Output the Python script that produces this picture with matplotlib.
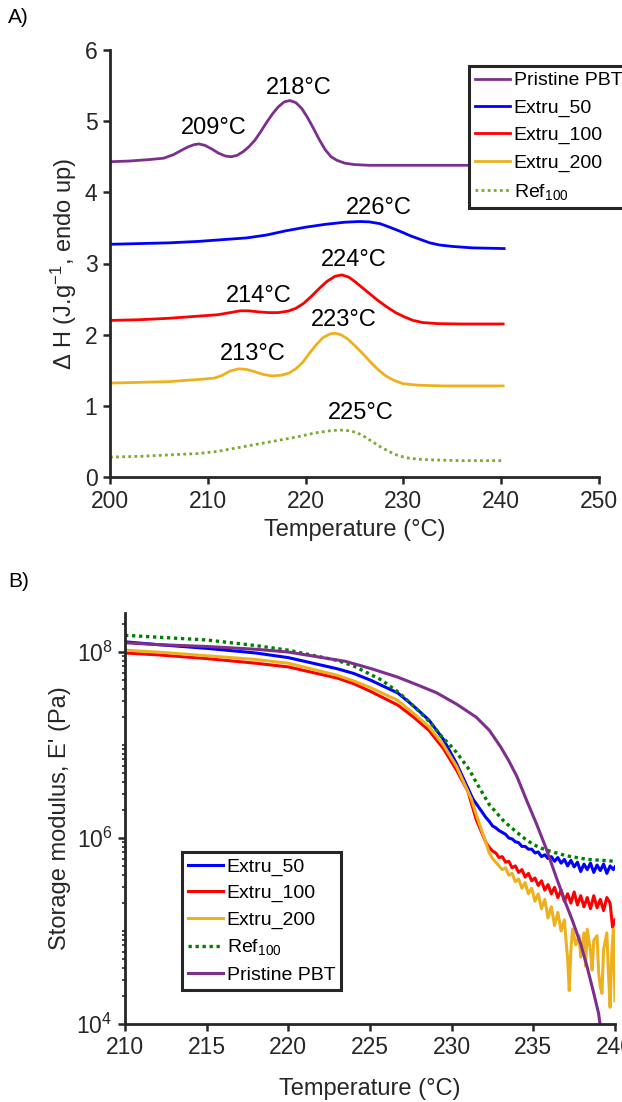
import matplotlib
matplotlib.use('Agg')
import matplotlib.pyplot as plt
import numpy as np
from matplotlib.ticker import LogLocator, NullFormatter

plt.rcParams['font.family'] = ['Liberation Sans', 'DejaVu Sans']
plt.rcParams['mathtext.fontset'] = 'custom'
plt.rcParams['mathtext.rm'] = 'Liberation Sans'
plt.rcParams['mathtext.it'] = 'Liberation Sans:italic'
plt.rcParams['mathtext.bf'] = 'Liberation Sans:bold'

########################################################
# A) DSC curves (read off the figure)
########################################################
T_pbt = [200, 202, 204, 205.5, 206.5, 207.3, 208, 208.6, 209.1, 209.7, 210.4, 211.1, 211.8,
         212.4, 213.0, 213.6, 214.2, 214.8, 215.4, 216.0, 216.6, 217.2, 217.8, 218.4, 219.0,
         219.6, 220.2, 220.8, 221.4, 222.0, 222.6, 223.2, 224.0, 225.0, 226.5, 230, 240.3]
H_pbt = [4.43, 4.44, 4.46, 4.48, 4.53, 4.59, 4.64, 4.67, 4.68, 4.66, 4.61, 4.55, 4.51,
         4.50, 4.52, 4.57, 4.64, 4.73, 4.85, 4.98, 5.10, 5.20, 5.27, 5.29, 5.26,
         5.18, 5.05, 4.90, 4.74, 4.60, 4.50, 4.45, 4.41, 4.39, 4.38, 4.38, 4.38]

T_e50 = [200, 203, 206, 209, 212, 214, 216, 218, 220, 222, 224, 225.5, 226.5, 227.6, 228.6,
         229.7, 230.7, 231.7, 232.7, 233.7, 235, 237, 240.3]
H_e50 = [3.27, 3.28, 3.29, 3.31, 3.34, 3.36, 3.40, 3.46, 3.51, 3.55, 3.58, 3.59, 3.585, 3.56,
         3.51, 3.45, 3.39, 3.34, 3.29, 3.26, 3.24, 3.22, 3.21]

T_e100 = [200, 203, 206, 209, 211, 212.3, 213.3, 214.2, 215.2, 216.2, 217.2, 218.2, 219.0,
          219.8, 220.6, 221.4, 222.2, 223.0, 223.7, 224.4, 225.1, 225.8, 226.6, 227.4, 228.3,
          229.2, 230.1, 231, 232, 233.5, 236, 240.2]
H_e100 = [2.20, 2.21, 2.23, 2.26, 2.28, 2.31, 2.335, 2.335, 2.32, 2.31, 2.31, 2.33, 2.37,
          2.44, 2.54, 2.65, 2.75, 2.82, 2.84, 2.81, 2.74, 2.66, 2.57, 2.48, 2.39,
          2.31, 2.25, 2.20, 2.17, 2.155, 2.15, 2.15]

T_e200 = [200, 203, 206, 209, 210.7, 211.5, 212.3, 213.2, 214.0, 214.8, 215.7, 216.6, 217.5,
          218.3, 219.0, 219.7, 220.4, 221.1, 221.8, 222.5, 223.0, 223.6, 224.3, 225.0, 225.8,
          226.6, 227.4, 228.2, 229.0, 230, 231.5, 234, 240.2]
H_e200 = [1.32, 1.33, 1.34, 1.37, 1.39, 1.43, 1.49, 1.52, 1.51, 1.48, 1.44, 1.42, 1.43,
          1.46, 1.52, 1.61, 1.74, 1.86, 1.96, 2.01, 2.02, 2.00, 1.94, 1.85, 1.74,
          1.62, 1.51, 1.42, 1.36, 1.31, 1.29, 1.28, 1.28]

T_ref = [200, 203, 206, 209, 211, 213, 215, 217, 219, 221, 222.5, 223.5, 224.5, 225.3, 226.1,
         226.9, 227.7, 228.5, 229.3, 230.3, 231.5, 233, 236, 240.2]
H_ref = [0.28, 0.29, 0.31, 0.33, 0.36, 0.41, 0.46, 0.51, 0.56, 0.62, 0.65, 0.66, 0.65, 0.62,
         0.56, 0.49, 0.42, 0.36, 0.31, 0.27, 0.25, 0.24, 0.23, 0.23]

# peak labels: text, x, y
peak_txt = ['218°C', '209°C', '226°C', '224°C', '214°C', '223°C', '213°C', '225°C']
peak_x = [219.3, 210.6, 227.5, 224.9, 215.2, 223.9, 214.6, 225.6]
peak_y = [5.47, 4.90, 3.78, 3.05, 2.54, 2.21, 1.73, 0.90]

########################################################
# B) DMA storage modulus, log10(E' / Pa)
########################################################
T_b50 = [210, 212, 215, 218, 220, 223, 224, 225, 226.7, 227.6, 228.6, 229.5, 230.3, 231.3,
         232.1, 232.3, 232.5, 232.7, 232.9, 233.1, 233.3, 233.5, 233.7, 233.9, 234.1, 234.3,
         234.5, 234.7, 234.9, 235.1, 235.3, 235.5, 235.7, 235.9, 236.1, 236.3, 236.5, 236.7,
         236.9, 237.1, 237.3, 237.5, 237.7, 237.9, 238.1, 238.3, 238.5, 238.7, 238.9, 239.1,
         239.3, 239.5, 239.7, 239.9, 240]
E_b50 = [8.11, 8.08, 8.04, 7.99, 7.94, 7.82, 7.77, 7.70, 7.56, 7.43, 7.27, 7.06, 6.80, 6.42,
         6.22, 6.18, 6.13, 6.11, 6.08, 6.06, 6.04, 6.00, 5.99, 5.96, 5.95, 5.91,
         5.91, 5.88, 5.88, 5.84, 5.85, 5.80, 5.82, 5.78, 5.80, 5.75, 5.79, 5.73,
         5.77, 5.70, 5.76, 5.69, 5.74, 5.64, 5.72, 5.66, 5.73, 5.63, 5.71, 5.65,
         5.72, 5.62, 5.70, 5.66, 5.69]

T_b100 = [210, 212, 215, 218, 220, 223, 224, 225, 226.7, 227.6, 228.6, 229.5, 230.3, 231.0,
          231.5, 232.1, 232.3, 232.5, 232.7, 232.9, 233.1, 233.3, 233.5, 233.7, 233.9, 234.1,
          234.3, 234.5, 234.7, 234.9, 235.1, 235.3, 235.5, 235.7, 235.9, 236.1, 236.3, 236.5,
          236.7, 236.9, 237.1, 237.3, 237.5, 237.7, 237.9, 238.1, 238.3, 238.5, 238.7, 238.9,
          239.1, 239.3, 239.5, 239.7, 239.85, 240]
E_b100 = [7.99, 7.97, 7.93, 7.88, 7.84, 7.72, 7.66, 7.58, 7.43, 7.31, 7.16, 6.96, 6.73, 6.50,
          6.20, 5.95, 5.90, 5.86, 5.84, 5.79, 5.80, 5.74, 5.75, 5.68, 5.70, 5.63,
          5.66, 5.58, 5.62, 5.54, 5.57, 5.49, 5.54, 5.44, 5.50, 5.40, 5.47, 5.36,
          5.44, 5.32, 5.40, 5.30, 5.42, 5.28, 5.38, 5.26, 5.36, 5.24, 5.38, 5.25,
          5.34, 5.22, 5.36, 5.30, 5.04, 5.12]

T_b200 = [210, 212, 215, 218, 220, 223, 224, 225, 226.7, 227.6, 228.6, 229.5, 230.3, 231.2,
          231.7, 232.0, 232.3, 232.5, 232.7, 232.9, 233.1, 233.3, 233.5, 233.7, 233.9, 234.1,
          234.3, 234.5, 234.7, 234.9, 235.1, 235.3, 235.5, 235.7, 235.9, 236.1, 236.3, 236.5,
          236.7, 236.9, 237.0, 237.1, 237.2, 237.3, 237.4, 237.6, 237.8, 237.9, 238.1, 238.2,
          238.3, 238.5, 238.6, 238.7, 238.9, 239.0, 239.1, 239.2, 239.3, 239.5, 239.6, 239.7,
          239.8, 239.9, 240]
E_b200 = [8.02, 8.00, 7.96, 7.92, 7.88, 7.75, 7.69, 7.62, 7.48, 7.35, 7.20, 7.00, 6.77, 6.42,
          6.15, 6.00, 5.84, 5.78, 5.74, 5.70, 5.66, 5.68, 5.60, 5.62, 5.53, 5.56,
          5.46, 5.52, 5.40, 5.46, 5.32, 5.40, 5.24, 5.34, 5.14, 5.26, 5.06, 5.20,
          5.00, 5.12, 4.90, 4.70, 4.36, 4.80, 5.02, 4.85, 4.95, 4.72, 4.98, 4.62,
          5.02, 4.78, 4.58, 4.90, 4.95, 4.55, 4.40, 4.33, 4.80, 4.98, 4.55, 4.18,
          4.75, 5.02, 4.25]

T_bref = [210, 212, 215, 218, 220, 223, 224, 225.7, 226.8, 227.9, 228.7, 229.4, 229.9, 230.3,
          231.1, 231.5, 232.3, 232.8, 233.2, 233.6, 234.0, 234.5, 235.0, 235.5, 236.0, 237.0,
          238.3, 239.2, 240]
E_bref = [8.18, 8.16, 8.13, 8.07, 8.02, 7.91, 7.85, 7.70, 7.56, 7.38, 7.24, 7.09, 7.00, 6.92,
          6.73, 6.60, 6.36, 6.26, 6.18, 6.12, 6.06, 5.99, 5.93, 5.89, 5.86, 5.81,
          5.77, 5.76, 5.75]

T_bpbt = [210, 212, 215, 218, 220, 223.5, 225.1, 226.7, 228, 229.1, 230.3, 231.5, 232.3, 233.0,
          233.5, 234.0, 234.6, 235.2, 235.8, 236.4, 237.0, 237.4, 237.9, 238.3, 238.7, 239.0,
          239.1]
E_bpbt = [8.10, 8.08, 8.06, 8.03, 8.00, 7.90, 7.82, 7.73, 7.64, 7.56, 7.44, 7.30, 7.16, 6.98,
          6.83, 6.66, 6.40, 6.15, 5.88, 5.58, 5.29, 5.11, 4.86, 4.61, 4.33, 4.11,
          3.97]

# colours (MATLAB style)
c_pbt = '#7E2F8E'
c_50 = '#0000FF'
c_100 = '#FF0000'
c_200 = '#EDB120'
c_ref_a = '#77AC30'
c_ref_b = '#008000'
c_ax = '#262626'

W, H = 622, 1102
fig = plt.figure(figsize=(W / 100, H / 100), dpi=100)

# ---------------- panel A ----------------
ax1 = fig.add_axes([110 / W, 1 - 477 / H, 489 / W, 427 / H])
lw = 2.0
ax1.plot(T_pbt, H_pbt, color=c_pbt, lw=lw, label='Pristine PBT')
ax1.plot(T_e50, H_e50, color=c_50, lw=lw, label='Extru_50')
ax1.plot(T_e100, H_e100, color=c_100, lw=lw, label='Extru_100')
ax1.plot(T_e200, H_e200, color=c_200, lw=lw, label='Extru_200')
ax1.plot(T_ref, H_ref, color=c_ref_a, lw=lw, ls=(0, (1, 1.2)), label='Ref$_{100}$')

for t, x, y in zip(peak_txt, peak_x, peak_y):
    ax1.text(x, y, t, ha='center', va='center', fontsize=17, color='black')

ax1.set_xlim(200, 250)
ax1.set_ylim(0, 6)
ax1.set_xticks([200, 210, 220, 230, 240, 250])
ax1.set_yticks([0, 1, 2, 3, 4, 5, 6])
ax1.set_xlabel('Temperature (°C)', fontsize=17, color=c_ax, labelpad=5)
ax1.set_ylabel('Δ H (J.g$^{-1}$, endo up)', fontsize=17, color=c_ax, labelpad=4)

leg1 = ax1.legend(loc='upper left', bbox_to_anchor=(469 / W, 1 - 66 / H),
                  bbox_transform=fig.transFigure, fontsize=14, fancybox=False,
                  framealpha=1, edgecolor=c_ax, borderpad=0.3, labelspacing=0.5,
                  handlelength=1.8, handletextpad=0.2, borderaxespad=0)
leg1.get_frame().set_linewidth(2.2)

# ---------------- panel B ----------------
ax2 = fig.add_axes([125 / W, 1 - 1024 / H, 490 / W, 411 / H])
ax2.plot(T_b50, 10 ** np.array(E_b50), color=c_50, lw=2.2, label='Extru_50')
ax2.plot(T_b100, 10 ** np.array(E_b100), color=c_100, lw=2.2, label='Extru_100')
ax2.plot(T_b200, 10 ** np.array(E_b200), color=c_200, lw=2.2, label='Extru_200')
ax2.plot(T_bref, 10 ** np.array(E_bref), color=c_ref_b, lw=2.4, ls=(0, (1, 1.1)),
         label='Ref$_{100}$')
ax2.plot(T_bpbt, 10 ** np.array(E_bpbt), color=c_pbt, lw=2.2, label='Pristine PBT')

ax2.set_yscale('log')
ax2.set_xlim(210, 240)
ax2.set_ylim(1e4, 10 ** 8.42)
ax2.set_xticks([210, 215, 220, 225, 230, 235, 240])
ax2.set_yticks([1e4, 1e6, 1e8])
ax2.yaxis.set_minor_locator(LogLocator(base=10, subs=np.arange(1, 10), numticks=20))
ax2.yaxis.set_minor_formatter(NullFormatter())
ax2.set_xlabel('Temperature (°C)', fontsize=17, color=c_ax, labelpad=13)
ax2.set_ylabel("Storage modulus, E' (Pa)", fontsize=17, color=c_ax, labelpad=4)

leg2 = ax2.legend(loc='upper left', bbox_to_anchor=(182 / W, 1 - 852 / H),
                  bbox_transform=fig.transFigure, fontsize=14, fancybox=False,
                  framealpha=1, edgecolor=c_ax, borderpad=0.3, labelspacing=0.45,
                  handlelength=1.8, handletextpad=0.2, borderaxespad=0)
leg2.get_frame().set_linewidth(2.2)

for ax in (ax1, ax2):
    for s in ('top', 'right'):
        ax.spines[s].set_visible(False)
    for s in ('left', 'bottom'):
        ax.spines[s].set_linewidth(2.0)
        ax.spines[s].set_color(c_ax)
    ax.tick_params(which='major', direction='out', length=5, width=1.8,
                   labelsize=16.5, colors=c_ax, pad=4)
    ax.tick_params(which='minor', direction='out', length=2.5, width=1.2, colors=c_ax)

fig.text(8 / W, 1 - 8 / H, 'A)', fontsize=15, ha='left', va='top')
fig.text(8 / W, 1 - 572 / H, 'B)', fontsize=15, ha='left', va='top')

fig.savefig('out.png', dpi=100)
